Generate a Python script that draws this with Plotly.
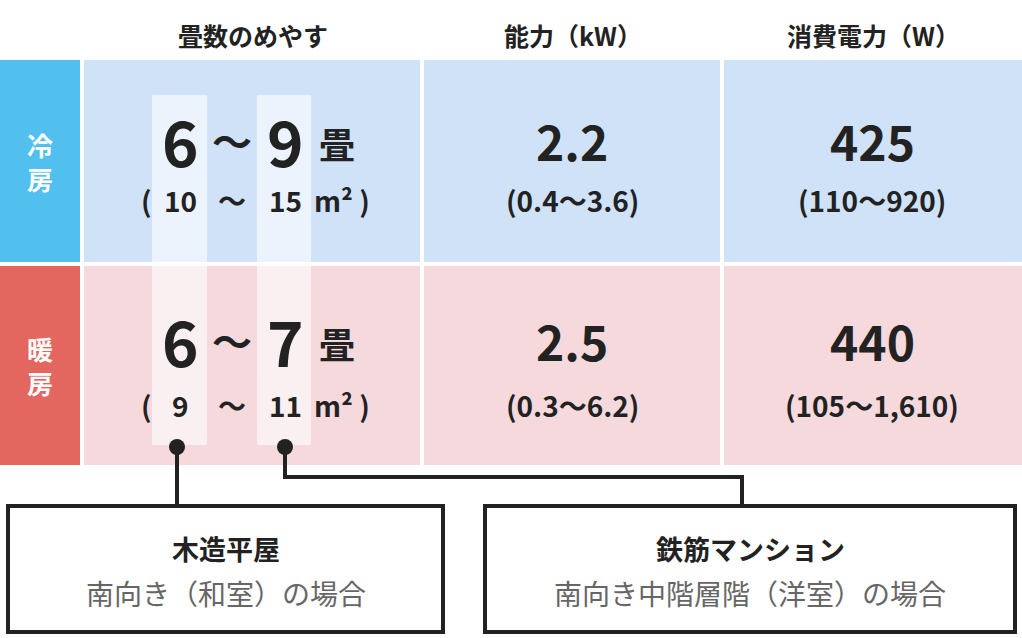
import plotly.graph_objects as go

headers = ["畳数のめやす", "能力（kW）", "消費電力（W）"]
modes = ["冷\n房", "暖\n房"]
tatami_min = ["6", "6"]
tatami_max = ["9", "7"]
m2_min = ["10", "9"]
m2_max = ["15", "11"]
kw_rated = ["2.2", "2.5"]
kw_range = ["(0.4〜3.6)", "(0.3〜6.2)"]
w_rated = ["425", "440"]
w_range = ["(110〜920)", "(105〜1,610)"]
notes_title = ["木造平屋", "鉄筋マンション"]
notes_sub = ["南向き（和室）の場合", "南向き中階層階（洋室）の場合"]

F = "Noto Sans CJK JP"
DARK = "#222222"
tab_colors = ["#52c0ef", "#e4675f"]
cell_colors = ["#cfe2f7", "#f5d9dc"]

fig = go.Figure()
shapes, ann = [], []

def txt(x, y, t, size, bold=False, color=DARK):
    ann.append(dict(x=x, y=y, xref="x", yref="y", text=(f"<b>{t}</b>" if bold else t),
                    showarrow=False, font=dict(family=F, size=size, color=color),
                    xanchor="center", yanchor="middle"))

def rect(x0, y0, x1, y1, fill, line=None, lw=0, layer="below"):
    shapes.append(dict(type="rect", xref="x", yref="y", x0=x0, y0=y0, x1=x1, y1=y1,
                       fillcolor=fill, line=dict(color=line or fill, width=lw), layer=layer))

for hx, h in zip([253, 573, 873], headers):
    txt(hx, 35, h, 25, True)

rows_y = [(60, 262), (266, 465)]
for i, (y0, y1) in enumerate(rows_y):
    rect(0, y0, 80, y1, tab_colors[i])
    rect(84, y0, 420, y1, cell_colors[i])
    rect(424, y0, 720, y1, cell_colors[i])
    rect(724, y0, 1022, y1, cell_colors[i])
    cy = (y0 + y1) / 2
    txt(40, cy, modes[i].replace("\n", "<br>"), 26, True, "white")

for px0, px1 in [(152, 207), (257, 311)]:
    shapes.append(dict(type="rect", xref="x", yref="y", x0=px0, y0=95, x1=px1, y1=445,
                       fillcolor="rgba(255,255,255,0.6)", line=dict(width=0), layer="above"))

for i, (ty, sy) in enumerate([(140, 200), (340, 405)]):
    txt(180, ty, tatami_min[i], 62, True)
    txt(232, ty, "〜", 40, True)
    txt(285, ty, tatami_max[i], 62, True)
    txt(337, ty + 3, "畳", 36, True)
    txt(146, sy, "(", 28, True)
    txt(180, sy, m2_min[i], 28, True)
    txt(232, sy, "〜", 28, True)
    txt(285, sy, m2_max[i], 28, True)
    txt(342, sy, "m² )", 28, True)
    txt(572, ty, kw_rated[i], 48, True)
    txt(572, sy, kw_range[i], 28, True)
    txt(872, ty, w_rated[i], 48, True)
    txt(872, sy, w_range[i], 28, True)

for x in [177, 285]:
    shapes.append(dict(type="circle", xref="x", yref="y", x0=x - 8, y0=439, x1=x + 8, y1=455,
                       fillcolor=DARK, line=dict(width=0)))
shapes.append(dict(type="path", xref="x", yref="y", path="M177,447 L177,506",
                   line=dict(color=DARK, width=4)))
shapes.append(dict(type="path", xref="x", yref="y", path="M285,447 L285,477 L742,477 L742,506",
                   line=dict(color=DARK, width=4)))

for (bx0, bx1), t, s in zip([(8, 443), (485, 1015)], notes_title, notes_sub):
    rect(bx0, 506, bx1, 632, "white", DARK, 4, "above")
    cx = (bx0 + bx1) / 2
    txt(cx, 548, t, 27, True)
    txt(cx, 593, s, 28, False, "#666666")

fig.update_layout(width=1022, height=638, margin=dict(l=0, r=0, t=0, b=0),
                  paper_bgcolor="white", plot_bgcolor="white",
                  xaxis=dict(range=[0, 1022], visible=False, fixedrange=True),
                  yaxis=dict(range=[638, 0], visible=False, fixedrange=True),
                  shapes=shapes, annotations=ann, showlegend=False)
fig.write_html("out.html", config={"displayModeBar": False},
               post_script="document.body.style.margin='0';document.body.style.overflow='hidden';")
